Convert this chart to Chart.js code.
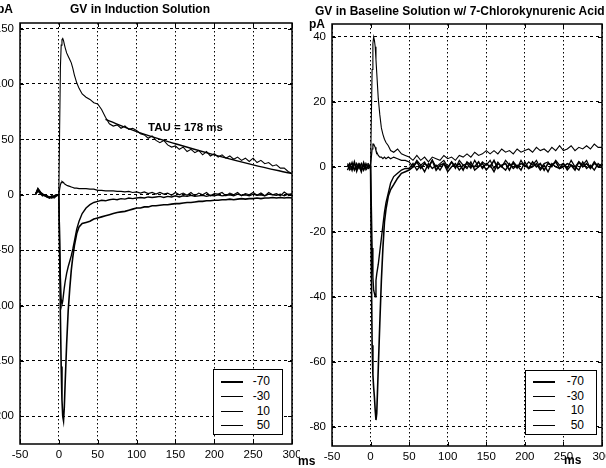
<!DOCTYPE html>
<html>
<head>
<meta charset="utf-8">
<title>GV traces</title>
<script src="https://cdn.jsdelivr.net/npm/chart.js@4.4.1/dist/chart.umd.min.js"></script>
<style>
    body { margin: 0; width: 606px; height: 468px; overflow: hidden; background: #fff; position: relative;
           font-family: "Liberation Sans", Arial, sans-serif; color: #000; }
    canvas { position: absolute; top: 0; }
    #leftChart { left: -12px; }
    #rightChart { left: 300px; }
    .label { position: absolute; font-weight: bold; font-size: 12px; line-height: 12px; white-space: nowrap; z-index: 2; }
    .legend { position: absolute; border: 1px solid #000; background: #fff; z-index: 2; box-sizing: border-box; }
    .legend .row { position: absolute; left: 0; height: 14px; width: 100%; }
    .legend .sample { position: absolute; left: 7px; width: 22px; top: 7px; background: #000; }
    .legend .txt { position: absolute; right: 12px; top: 0; font-size: 12px; line-height: 14px; }
</style>
</head>
<body>
<canvas id="leftChart" width="312" height="468"></canvas>
<canvas id="rightChart" width="306" height="468"></canvas>

<div class="label" style="left:70px; top:3px;">GV in Induction Solution</div>
<div class="label" style="left:-3px; top:3px;">pA</div>
<div class="label" style="left:148px; top:121px; font-size:11.5px;">TAU = 178 ms</div>
<div class="label" style="left:298px; top:455px;">ms</div>

<div class="label" style="left:315px; top:5px;">GV in Baseline Solution w/ 7-Chlorokynurenic Acid</div>
<div class="label" style="left:309px; top:18px;">pA</div>
<div class="label" style="left:564px; top:454px;">ms</div>

<div class="legend" id="leftLegend" style="left:213px; top:369px; width:70px; height:66px;"></div>
<div class="legend" id="rightLegend" style="left:525px; top:370px; width:72px; height:65px;"></div>

<script>
// Sample times (ms), shared by every trace
const timeMs = [-30, -27, -24, -21, -18, -15, -12, -9, -6, -3,
    0, 1, 2, 3, 4, 5, 6, 7, 8, 10, 12, 14, 16, 18, 20, 23, 26, 30, 35, 40, 45,
    50, 55, 60, 65, 70, 75, 80, 85, 90, 95, 100, 105, 110, 115, 120, 125, 130, 135, 140, 145,
    150, 155, 160, 165, 170, 175, 180, 185, 190, 195, 200, 205, 210, 215, 220, 225, 230, 235, 240, 245,
    250, 255, 260, 265, 270, 275, 280, 285, 290, 295, 300];

const seriesLabels = ['-70', '-30', '10', '50'];

// Left panel: induction solution (pA)
const leftM70 = [0, 5, 2, 0, -1, -2, -3, -1, -2, -1,
    0, -50, -110, -155, -185, -200, -204, -192, -172, -135, -105, -85, -68, -56, -46, -35, -29, -26, -25, -24, -22,
    -21, -20, -19, -18, -17, -16, -15.5, -15, -14, -13, -12, -12, -11, -11, -10, -10, -9.5, -9, -9, -8.5,
    -8, -8, -7.5, -7, -7, -6.5, -6, -6, -5.5, -5.5, -5, -5, -4.5, -4.5, -4, -4.5, -4, -3.5, -4, -3.5,
    -3.5, -3, -3.5, -3, -3, -2.5, -3, -2.5, -3, -2.5, -3];
const leftM30 = [1, 4, 1, -1, 0, -2, -2, -3, -1, 0,
    0, -40, -75, -95, -99, -96, -90, -84, -79, -71, -65, -60, -55, -49, -42, -31, -24, -17, -12, -9, -7,
    -6, -5, -5.5, -4.5, -4, -4.5, -3.5, -4, -3, -3.5, -3, -2.5, -3, -2, -2.5, -2, -1.5, -2.5, -1.5, -2,
    -1, -2, -1, -1.5, -0.5, -1.5, -1, -0.5, -1.5, -0.5, -1, 0, -1, -0.5, 0, -1, 0.5, -0.5, 0, -1,
    0.5, -0.5, 0, -1, 0.5, 0, -0.5, 0.5, -1, 0.5, 0];
const left10 = [0, 3, 2, 1, -1, -1, -2, -2, -1, 0,
    0, 5, 9, 11, 12, 11.5, 11, 10, 9.5, 8.5, 8, 7.5, 7, 6.5, 6, 6, 5.5, 5.5, 5.5, 5, 5,
    4, 4, 3.5, 3.5, 3.5, 3, 3, 2.5, 3, 2, 2.5, 1.5, 2.5, 1, 2, 0.5, 2, 0.5, 1.5, -0.5,
    2, 0, 1.5, -0.5, 2, -1, 1.5, 0, 2, -1, 1, 0.5, 2, -1, 1.5, 0, 2, -1, 1, 0,
    2, -0.5, 1.5, -1, 2, 0, 1, -1, 2.5, 0, 1];
const left50 = [1, 6, 3, 0, 0, -1, -3, -2, -3, -1,
    0, 60, 115, 135, 140, 141, 139, 136, 133, 128, 125, 122, 119, 114, 108, 101, 96, 91, 88, 86, 83,
    82, 77, 70, 64, 62, 63, 60, 62, 59, 60, 58, 55, 54, 51, 53, 49, 47, 49, 45, 43,
    44, 41, 43, 39, 41, 38, 40, 36, 39, 35, 37, 34, 36, 33, 35, 32, 34, 31, 33, 30,
    33, 29, 31, 28, 29, 26, 27, 24, 24, 21, 19];

// Exponential fit drawn over the +50 trace
const fitTimeMs = [60, 100, 150, 200, 250, 300];
const fitValues = [68, 57, 46, 36, 27, 19];

// Right panel: baseline solution w/ 7-chlorokynurenic acid (pA)
const rightM70 = [0, 1, -1, 1.5, -1, 0.5, -1.5, 1, -0.5, 0.5,
    0, -30, -55, -64, -68, -71, -75, -78, -76, -62, -48, -35, -25, -17, -13, -9, -7, -5.5, -3.5, -2, -1.5,
    -1, 0, 1.5, -0.5, 1, 0, 2, -1, 0.5, 1, -0.5, 1.5, 0, 1, -1, 1.5, 0.5, 0, 1.5, -0.5,
    1, 0, 2, -0.5, 0.5, 1, -1, 1.5, 0, 1, 0.5, -0.5, 1.5, 0, 1, -1, 1, 0.5, 1.5, -0.5,
    0, 1, 0.5, -1, 1.5, 0, 1, -0.5, 1.5, 0, 0.5];
const rightM30 = [-1, 0.5, 1, -1, 1, -0.5, 1, -1, 1, -0.5,
    0, -12, -25, -34, -38, -39, -40, -35, -33, -30, -26, -22, -18, -14, -11, -8, -5, -3, -2, -1, -0.5,
    -0.5, 1, -1, 0.5, -1.5, 1, -0.5, 0.5, -1, 1, -1.5, 0, 1, -1, 0.5, -0.5, 1.5, -1, 0, 1,
    -1, 0.5, -1.5, 1, 0, -1, 1, -0.5, 0.5, -1, 1.5, -0.5, 0, 1, -1, 0.5, -1.5, 1, 0, -0.5,
    1, -1, 0.5, 0, -1, 1.5, -0.5, 0.5, -1, 1, 0];
const right10 = [0.5, -1, 0, 1, -1.5, 1, 0, -1, 0.5, 1,
    0, 3, 5.5, 7, 7, 6.5, 6, 5, 4.5, 3.5, 3, 3, 2.5, 3, 2.5, 3, 2.5, 3, 2.5, 2, 2,
    1.5, 0, 2, 0.5, 1.5, -0.5, 2, 0, 1, 2, 0, 1.5, -0.5, 2, 0.5, 1, -0.5, 2, 0, 1.5,
    0.5, 2, -0.5, 1.5, 0, 2, 0.5, 1, -0.5, 2, 0, 1.5, 0.5, 2, -0.5, 1, 1.5, 0, 2, 0.5,
    1, -0.5, 2, 0, 1.5, 0.5, 2, -0.5, 1, 0, 1];
const right50 = [1, -0.5, 1.5, -1, 0, 1, -1, 1.5, -1, 0,
    0, 15, 30, 38, 40, 39, 37, 33, 29, 21, 16, 12, 10, 8.5, 7.5, 6.5, 5, 4.5, 5.5, 4, 3.5,
    3, 2, 3.5, 2, 3, 1.5, 3, 2.5, 2, 3.5, 2.5, 3, 2, 3.5, 3, 4, 3, 4.5, 3.5, 4,
    5, 4, 5, 4, 5.5, 4.5, 5, 4, 5.5, 4.5, 5, 5.5, 4.5, 6, 5, 5.5, 4.5, 6, 5, 6.5,
    5, 5.5, 6.5, 5, 6, 5.5, 6.5, 5.5, 7, 6, 6];

// Axis ticks
const xTicks = [-50, 0, 50, 100, 150, 200, 250, 300];
const leftYTicks = [-200, -150, -100, -50, 0, 50, 100, 150];
const rightYTicks = [-80, -60, -40, -20, 0, 20, 40];

// Line weight per voltage step
const lineWidths = [1.6, 1.4, 1.2, 1.1];

const FONT = '"Liberation Sans", Arial, sans-serif';

document.addEventListener('DOMContentLoaded', function() {
    const left = buildChart('leftChart', [leftM70, leftM30, left10, left50], {
        yMin: -225, yMax: 155, yTicks: leftYTicks, padTop: 23, padRight: 8, xHeight: 24, withFit: true
    });
    const right = buildChart('rightChart', [rightM70, rightM30, right10, right50], {
        yMin: -86, yMax: 44, yTicks: rightYTicks, padTop: 24, padRight: 4, xHeight: 22, withFit: false
    });
    buildLegend('leftLegend', left, [11, 26, 41, 55]);
    buildLegend('rightLegend', right, [10, 25, 39, 54]);
});

// Pair the time axis with one trace
function toPoints(times, values) {
    return times.map((t, i) => ({ x: t, y: values[i] }));
}

// Solid frame round the plot area, with small inward tick marks
const framePlugin = {
    id: 'frame',
    afterDatasetsDraw(chart) {
        const { ctx, chartArea: a, scales } = chart;
        ctx.save();
        ctx.strokeStyle = '#000';
        ctx.lineWidth = 1;
        ctx.beginPath();
        scales.x.ticks.forEach(t => {
            const px = Math.round(scales.x.getPixelForValue(t.value)) + 0.5;
            ctx.moveTo(px, a.bottom); ctx.lineTo(px, a.bottom - 4);
            ctx.moveTo(px, a.top); ctx.lineTo(px, a.top + 4);
        });
        scales.y.ticks.forEach(t => {
            const py = Math.round(scales.y.getPixelForValue(t.value)) + 0.5;
            ctx.moveTo(a.left, py); ctx.lineTo(a.left + 4, py);
            ctx.moveTo(a.right, py); ctx.lineTo(a.right - 4, py);
        });
        ctx.stroke();
        ctx.lineWidth = 1.5;
        ctx.strokeRect(a.left, a.top, a.right - a.left, a.bottom - a.top);
        ctx.restore();
    }
};

function buildChart(canvasId, traces, cfg) {
    const datasets = traces.map((values, i) => ({
        label: seriesLabels[i],
        data: toPoints(timeMs, values),
        borderColor: '#000',
        borderWidth: lineWidths[i],
        pointRadius: 0,
        tension: 0
    }));
    if (cfg.withFit) {
        datasets.push({
            label: 'fit',
            data: toPoints(fitTimeMs, fitValues),
            borderColor: '#000',
            borderWidth: 1.4,
            pointRadius: 0,
            cubicInterpolationMode: 'monotone'
        });
    }

    const tickFont = { family: FONT, size: 11.5 };

    return new Chart(document.getElementById(canvasId), {
        type: 'line',
        data: { datasets: datasets },
        options: {
            responsive: false,
            animation: false,
            events: [],
            layout: { padding: { top: cfg.padTop, right: cfg.padRight, left: 0, bottom: 0 } },
            plugins: {
                legend: { display: false },
                tooltip: { enabled: false }
            },
            scales: {
                x: {
                    type: 'linear',
                    min: -50,
                    max: 300,
                    afterBuildTicks: axis => { axis.ticks = xTicks.map(v => ({ value: v })); },
                    afterFit: axis => {
                        axis.height = cfg.xHeight;
                        axis.paddingLeft = 0;
                        axis.paddingRight = 0;
                    },
                    ticks: { color: '#000', font: tickFont, padding: 4, maxRotation: 0, autoSkip: false },
                    grid: { color: '#000', lineWidth: 1, drawTicks: false },
                    border: { display: false, dash: [1.5, 2.5] }
                },
                y: {
                    type: 'linear',
                    min: cfg.yMin,
                    max: cfg.yMax,
                    afterBuildTicks: axis => { axis.ticks = cfg.yTicks.map(v => ({ value: v })); },
                    afterFit: axis => {
                        axis.width = 32;
                        axis.paddingTop = 0;
                        axis.paddingBottom = 0;
                    },
                    ticks: { color: '#000', font: tickFont, padding: 6, autoSkip: false },
                    grid: { color: '#000', lineWidth: 1, drawTicks: false },
                    border: { display: false, dash: [3, 3] }
                }
            }
        },
        plugins: [framePlugin]
    });
}

// Legend box built from the chart's own datasets
function buildLegend(boxId, chart, rowTops) {
    const box = document.getElementById(boxId);
    chart.data.datasets
        .filter(ds => seriesLabels.includes(ds.label))
        .forEach((ds, i) => {
            const row = document.createElement('div');
            row.className = 'row';
            row.style.top = (rowTops[i] - 7) + 'px';
            const sample = document.createElement('div');
            sample.className = 'sample';
            sample.style.height = ds.borderWidth + 'px';
            const txt = document.createElement('div');
            txt.className = 'txt';
            txt.textContent = ds.label;
            row.appendChild(sample);
            row.appendChild(txt);
            box.appendChild(row);
        });
}
</script>
</body>
</html>
